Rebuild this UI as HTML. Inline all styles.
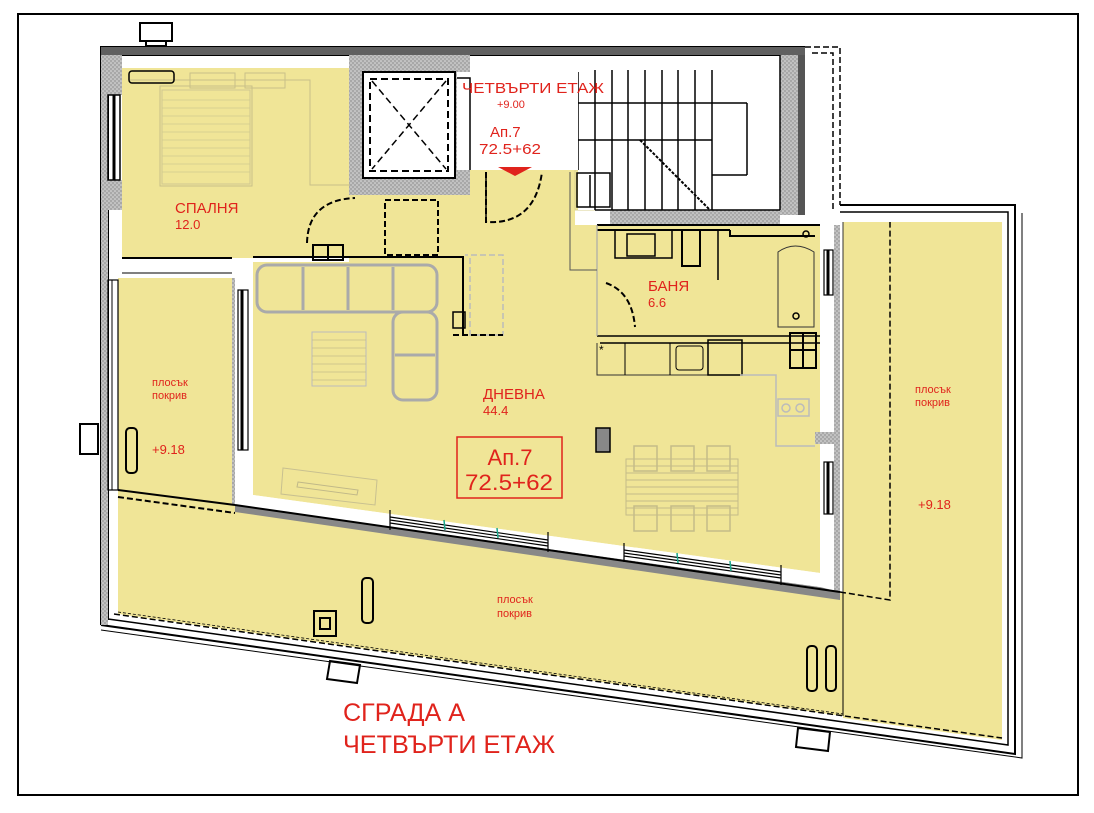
<!DOCTYPE html>
<html><head><meta charset="utf-8"><style>
html,body{margin:0;padding:0;background:#fff;}
svg{display:block;}
text{font-family:"Liberation Sans",sans-serif;fill:#e0231c;}
</style></head><body>
<svg width="1094" height="813" viewBox="0 0 1094 813" xmlns="http://www.w3.org/2000/svg">
<defs>
<pattern id="h" width="4" height="4" patternUnits="userSpaceOnUse"><rect width="4" height="4" fill="#a8a8a8"/><circle cx="1" cy="1" r="0.8" fill="#e0e0e0"/><circle cx="3" cy="3" r="0.8" fill="#e0e0e0"/></pattern>
</defs>
<rect x="18" y="14" width="1060" height="781" fill="#fff" stroke="#000" stroke-width="2"/>

<polygon points="118,278 235,278 235,505 253,507 830,590 843,592 843,716 118,614" fill="#f0e597"/>
<polygon points="843,222 1002,222 1002,740 843,718" fill="#f0e597"/>
<rect x="122" y="68" width="227" height="190" fill="#f0e597"/>
<polygon points="349,195 470,195 470,170 575,170 575,225 820,225 820,573 253,495 253,262 349,262" fill="#f0e597"/>
<rect x="575" y="170" width="36" height="40" fill="#f0e597" stroke="#d8d090"/>

<g fill="none" stroke="#000">
<path d="M101,625 L101,47 L805,47" stroke-width="2"/>
<path d="M108,620 L108,55 L798,55" stroke-width="2"/>
<path d="M101,625 L1015,754 L1015,205 L840,205" stroke-width="2"/>
<path d="M108,619 L1008,745 L1008,212 L840,212" stroke-width="1.5"/>
<path d="M114,614 L1002,738" stroke-width="1.5" stroke-dasharray="6,3"/>
<path d="M1022,213 L1022,758 L101,630" stroke-width="1"/>
<path d="M805,47 L840,47 L840,205" stroke-width="1.5" stroke-dasharray="6,3"/>
<path d="M812,53 L833,53 L833,212" stroke-width="1.5" stroke-dasharray="6,3"/>
<path d="M118,612 L843,714" stroke-width="0.8" stroke-dasharray="3,2"/>
</g>
<rect x="101" y="47" width="7" height="578" fill="url(#h)"/>
<rect x="101" y="47" width="704" height="8" fill="#606060"/>
<rect x="108" y="55" width="14" height="40" fill="url(#h)"/>
<rect x="108" y="180" width="14" height="30" fill="url(#h)"/>
<rect x="349" y="55" width="121" height="17" fill="url(#h)"/>
<rect x="349" y="178" width="121" height="17" fill="url(#h)"/>
<rect x="349" y="72" width="14" height="106" fill="url(#h)"/>
<rect x="455" y="72" width="15" height="106" fill="url(#h)"/>
<rect x="780" y="55" width="18" height="160" fill="url(#h)"/>
<rect x="798" y="55" width="7" height="160" fill="#555"/>
<rect x="610" y="210" width="170" height="14" fill="url(#h)"/>
<rect x="820" y="225" width="14" height="350" fill="#fff"/>
<rect x="834" y="225" width="6" height="370" fill="url(#h)"/>
<rect x="815" y="432" width="20" height="12" fill="url(#h)"/>
<rect x="232" y="262" width="6" height="243" fill="url(#h)"/>
<rect x="235" y="262" width="18" height="240" fill="#fff"/>
<rect x="122" y="258" width="113" height="20" fill="#fff"/>
<line x1="122" y1="258" x2="232" y2="258" stroke="#000" stroke-width="2"/>
<line x1="122" y1="273" x2="232" y2="273" stroke="#000" stroke-width="1"/>

<g stroke="#000" fill="none">
<rect x="108" y="95" width="12" height="85" stroke-width="1.5"/>
<line x1="114" y1="95" x2="114" y2="180" stroke-width="3"/>
<rect x="108" y="280" width="10" height="210" stroke-width="1.2"/>
<line x1="112" y1="280" x2="112" y2="490" stroke-width="1"/>
<rect x="238" y="290" width="10" height="160" stroke-width="1.2"/>
<line x1="242" y1="290" x2="242" y2="450" stroke-width="3"/>
<rect x="824" y="250" width="9" height="45" stroke-width="1.2"/>
<line x1="828" y1="250" x2="828" y2="295" stroke-width="3"/>
<rect x="824" y="462" width="9" height="52" stroke-width="1.2"/>
<line x1="828" y1="462" x2="828" y2="514" stroke-width="3"/>
</g>
<polygon points="235,505 820,587 840,592 840,600 235,512" fill="#888"/>
<polygon points="253,495 820,573 820,587 235,505 235,495" fill="#fff"/>
<line x1="235" y1="505" x2="840" y2="592" stroke="#000" stroke-width="2"/>
<g stroke="#000" stroke-width="1.2">
<line x1="390" y1="517" x2="548" y2="540"/><line x1="390" y1="520" x2="548" y2="543"/><line x1="390" y1="523" x2="548" y2="546"/>
<line x1="624" y1="550" x2="781" y2="572"/><line x1="624" y1="553" x2="781" y2="575"/><line x1="624" y1="556" x2="781" y2="578"/>
<line x1="390" y1="510" x2="390" y2="530"/><line x1="548" y1="532" x2="548" y2="552"/><line x1="624" y1="543" x2="624" y2="562"/><line x1="781" y1="565" x2="781" y2="585"/>
</g>
<g stroke="#1aa88a" stroke-width="1.5"><line x1="444" y1="520" x2="445" y2="530"/><line x1="497" y1="528" x2="498" y2="538"/><line x1="677" y1="553" x2="678" y2="563"/><line x1="730" y1="561" x2="731" y2="571"/></g>
<polyline points="118,490 235,505" stroke="#000" stroke-width="2" fill="none"/>
<polyline points="118,497 235,513" stroke="#000" stroke-width="2" fill="none" stroke-dasharray="6,3"/>
<polyline points="840,592 890,600 890,222" stroke="#000" stroke-width="1.5" fill="none" stroke-dasharray="6,3"/>
<line x1="843" y1="592" x2="843" y2="716" stroke="#000" stroke-width="1"/>
<line x1="843" y1="222" x2="843" y2="592" stroke="#333" stroke-width="1"/>

<rect x="363" y="72" width="92" height="106" fill="#fff" stroke="#000" stroke-width="2"/>
<rect x="370" y="79" width="78" height="92" fill="none" stroke="#000" stroke-width="2" stroke-dasharray="7,4"/>
<line x1="372" y1="81" x2="446" y2="169" stroke="#000" stroke-width="1.5" stroke-dasharray="7,4"/>
<line x1="446" y1="81" x2="372" y2="169" stroke="#000" stroke-width="1.5" stroke-dasharray="7,4"/>

<rect x="578" y="72" width="202" height="138" fill="#fff"/>
<g stroke="#000" stroke-width="1.5">
<line x1="578" y1="72" x2="578" y2="170"/>
<line x1="595" y1="70" x2="595" y2="210"/><line x1="612" y1="70" x2="612" y2="210"/><line x1="628" y1="70" x2="628" y2="210"/><line x1="645" y1="70" x2="645" y2="210"/><line x1="662" y1="70" x2="662" y2="210"/><line x1="678" y1="70" x2="678" y2="210"/><line x1="695" y1="70" x2="695" y2="210"/><line x1="712" y1="70" x2="712" y2="210"/>
<line x1="578" y1="103" x2="747" y2="103"/><line x1="578" y1="140" x2="712" y2="140"/>
<line x1="747" y1="103" x2="747" y2="175"/><line x1="712" y1="175" x2="747" y2="175"/>
<line x1="780" y1="55" x2="780" y2="210"/><line x1="595" y1="210" x2="780" y2="210"/>
<line x1="640" y1="140" x2="710" y2="210" stroke-dasharray="3,1.5" stroke-width="2"/>
</g>
<rect x="457" y="72" width="121" height="98" fill="#fff"/>
<polyline points="457,78 470,78 470,170" fill="none" stroke="#000" stroke-width="1.5"/>
<polygon points="498,167 532,167 515,176" fill="#e0231c"/>
<path d="M486,172 L486,222 Q535,225 542,172" fill="none" stroke="#000" stroke-width="2" stroke-dasharray="6,3"/>
<line x1="486" y1="172" x2="486" y2="222" stroke="#000" stroke-width="1.5"/>

<g stroke="#c8c088" fill="none" stroke-width="1">
<rect x="160" y="86" width="92" height="100"/>
<rect x="162" y="90" width="88" height="94" stroke="#d0c890"/>
<path d="M130,80 H310 V185 H350"/>
<rect x="190" y="73" width="45" height="15"/><rect x="245" y="73" width="40" height="15"/>
</g>
<g stroke="#d2ca8e" stroke-width="0.7">
<line x1="162" y1="100" x2="250" y2="100"/><line x1="162" y1="108" x2="250" y2="108"/><line x1="162" y1="116" x2="250" y2="116"/><line x1="162" y1="124" x2="250" y2="124"/><line x1="162" y1="132" x2="250" y2="132"/><line x1="162" y1="140" x2="250" y2="140"/><line x1="162" y1="148" x2="250" y2="148"/><line x1="162" y1="156" x2="250" y2="156"/><line x1="162" y1="164" x2="250" y2="164"/><line x1="162" y1="172" x2="250" y2="172"/>
</g>
<rect x="129" y="71" width="45" height="12" rx="3" fill="none" stroke="#000" stroke-width="1.5"/>
<path d="M307,243 Q308,200 355,198" fill="none" stroke="#000" stroke-width="2" stroke-dasharray="6,3"/>
<rect x="385" y="200" width="53" height="55" fill="none" stroke="#000" stroke-width="2" stroke-dasharray="6,3"/>
<path d="M253,257 H463 V335" fill="none" stroke="#000" stroke-width="2"/>
<path d="M470,258 V335 H503 V255 H465" fill="none" stroke="#bbb" stroke-width="1.5" stroke-dasharray="6,3"/>
<rect x="313" y="245" width="30" height="15" fill="none" stroke="#000" stroke-width="2"/>
<line x1="328" y1="245" x2="328" y2="260" stroke="#000" stroke-width="2"/>
<rect x="453" y="312" width="12" height="16" fill="none" stroke="#000" stroke-width="1.5"/>
<path d="M453,335 H503" stroke="#000" stroke-width="2" stroke-dasharray="6,3"/>

<g fill="none" stroke="#aaa" stroke-width="3" stroke-linejoin="round">
<rect x="257" y="265" width="180" height="47" rx="10"/>
<rect x="393" y="312" width="44" height="88" rx="10"/>
<line x1="303" y1="267" x2="303" y2="310"/><line x1="348" y1="267" x2="348" y2="310"/><line x1="393" y1="267" x2="393" y2="310"/><line x1="395" y1="355" x2="435" y2="355"/>
</g>
<rect x="312" y="332" width="54" height="54" fill="none" stroke="#bbb" stroke-width="1"/>
<g stroke="#c4bc88" stroke-width="0.8"><line x1="312" y1="340" x2="366" y2="340"/><line x1="312" y1="348" x2="366" y2="348"/><line x1="312" y1="356" x2="366" y2="356"/><line x1="312" y1="364" x2="366" y2="364"/><line x1="312" y1="372" x2="366" y2="372"/><line x1="312" y1="380" x2="366" y2="380"/></g>
<polygon points="283,468 377,480 375,505 281,494" fill="none" stroke="#c8c090" stroke-width="1"/>
<polygon points="298,482 358,490 357,495 297,487" fill="none" stroke="#c0b888" stroke-width="1"/>

<g fill="none" stroke="#000">
<path d="M597,225 H820 M597,230 H730 M730,230 V236 H815" stroke-width="2"/>
<path d="M597,336 H820 M600,343 H820" stroke-width="1.5"/>
<rect x="627" y="234" width="28" height="22" stroke-width="1.5"/>
<path d="M615,230 V258 H672 V230" stroke-width="1.5"/>
<rect x="682" y="230" width="18" height="36" stroke-width="2"/>
<line x1="718" y1="230" x2="718" y2="280" stroke-width="1.5"/>
<path d="M778,327 V252 Q795,240 814,252 V327 Z" stroke="#333" stroke-width="1"/>
<circle cx="796" cy="316" r="3" stroke-width="1.5"/>
<circle cx="806" cy="234" r="3" stroke-width="1.5"/>
<path d="M606,283 Q632,292 635,327" stroke-width="2" stroke-dasharray="6,3"/>
<line x1="597" y1="225" x2="597" y2="336" stroke="#aaa" stroke-width="1.2"/>
<path d="M570,172 V270 H597" stroke="#555" stroke-width="1"/>
<rect x="577" y="173" width="33" height="34" stroke-width="1.5"/>
<line x1="590" y1="175" x2="590" y2="207" stroke-width="1.5"/>
<path d="M597,343 V375 H740" stroke-width="1" stroke="#333"/>
<line x1="625" y1="343" x2="625" y2="375"/><line x1="670" y1="343" x2="670" y2="375"/>
<rect x="676" y="346" width="27" height="24" rx="3"/>
<rect x="708" y="340" width="34" height="35" stroke-width="1.5"/>
<rect x="790" y="333" width="26" height="35" stroke-width="2"/>
<line x1="790" y1="350" x2="816" y2="350" stroke-width="2"/><line x1="803" y1="333" x2="803" y2="368" stroke-width="2"/>
</g>
<path d="M740,375 H776 V446 H815" fill="none" stroke="#bbb" stroke-width="1.5"/>
<rect x="778" y="399" width="31" height="17" fill="none" stroke="#bbb" stroke-width="1.5"/>
<circle cx="786" cy="408" r="4" fill="none" stroke="#bbb" stroke-width="1.5"/><circle cx="800" cy="408" r="4" fill="none" stroke="#bbb" stroke-width="1.5"/>
<text x="599" y="354" style="fill:#000;font-size:12px">*</text>
<rect x="596" y="428" width="14" height="24" fill="#888" stroke="#000" stroke-width="1.5"/>
<g fill="none" stroke="#c4bc88" stroke-width="1">
<rect x="626" y="459" width="112" height="56"/>
<line x1="626" y1="466" x2="738" y2="466"/><line x1="626" y1="473" x2="738" y2="473"/><line x1="626" y1="480" x2="738" y2="480"/><line x1="626" y1="487" x2="738" y2="487"/><line x1="626" y1="494" x2="738" y2="494"/><line x1="626" y1="501" x2="738" y2="501"/><line x1="626" y1="508" x2="738" y2="508"/>
<rect x="634" y="446" width="23" height="25" stroke-width="1.5"/><rect x="671" y="446" width="23" height="25" stroke-width="1.5"/><rect x="707" y="446" width="23" height="25" stroke-width="1.5"/>
<rect x="634" y="506" width="23" height="25" stroke-width="1.5"/><rect x="671" y="506" width="23" height="25" stroke-width="1.5"/><rect x="707" y="506" width="23" height="25" stroke-width="1.5"/>
</g>

<g fill="none" stroke="#000" stroke-width="2">
<rect x="126" y="428" width="11" height="45" rx="4"/>
<rect x="362" y="578" width="11" height="45" rx="4"/>
<rect x="314" y="611" width="22" height="25"/><rect x="320" y="618" width="10" height="11"/>
<rect x="807" y="646" width="10" height="45" rx="4"/><rect x="826" y="646" width="10" height="45" rx="4"/>
<rect x="140" y="23" width="32" height="18"/><rect x="146" y="41" width="20" height="5"/>
<rect x="80" y="424" width="18" height="30"/>
<polygon points="330,661 360,665 357,683 327,679"/>
<polygon points="798,728 830,732 828,751 796,747"/>
</g>

<text x="462" y="93" font-size="15" textLength="142" lengthAdjust="spacingAndGlyphs">ЧЕТВЪРТИ ЕТАЖ</text>
<text x="497" y="108" font-size="11">+9.00</text>
<text x="490" y="137" font-size="15">Ап.7</text>
<text x="479" y="154" font-size="15" textLength="62" lengthAdjust="spacingAndGlyphs">72.5+62</text>
<text x="175" y="213" font-size="15">СПАЛНЯ</text>
<text x="175" y="229" font-size="13">12.0</text>
<text x="648" y="291" font-size="15">БАНЯ</text>
<text x="648" y="307" font-size="13">6.6</text>
<text x="483" y="399" font-size="15">ДНЕВНА</text>
<text x="483" y="415" font-size="13">44.4</text>
<rect x="457" y="437" width="105" height="61" fill="none" stroke="#e0231c" stroke-width="1.5"/>
<text x="510" y="465" font-size="22" text-anchor="middle">Ап.7</text>
<text x="465" y="490" font-size="22" textLength="88" lengthAdjust="spacingAndGlyphs">72.5+62</text>
<text x="152" y="386" font-size="11">плосък</text>
<text x="152" y="399" font-size="11">покрив</text>
<text x="152" y="454" font-size="13">+9.18</text>
<text x="915" y="393" font-size="11">плосък</text>
<text x="915" y="406" font-size="11">покрив</text>
<text x="918" y="509" font-size="13">+9.18</text>
<text x="497" y="603" font-size="11">плосък</text>
<text x="497" y="617" font-size="11">покрив</text>
<text x="343" y="721" font-size="25" textLength="122" lengthAdjust="spacingAndGlyphs">СГРАДА А</text>
<text x="343" y="753" font-size="25" textLength="212" lengthAdjust="spacingAndGlyphs">ЧЕТВЪРТИ ЕТАЖ</text>
</svg>
</body></html>
